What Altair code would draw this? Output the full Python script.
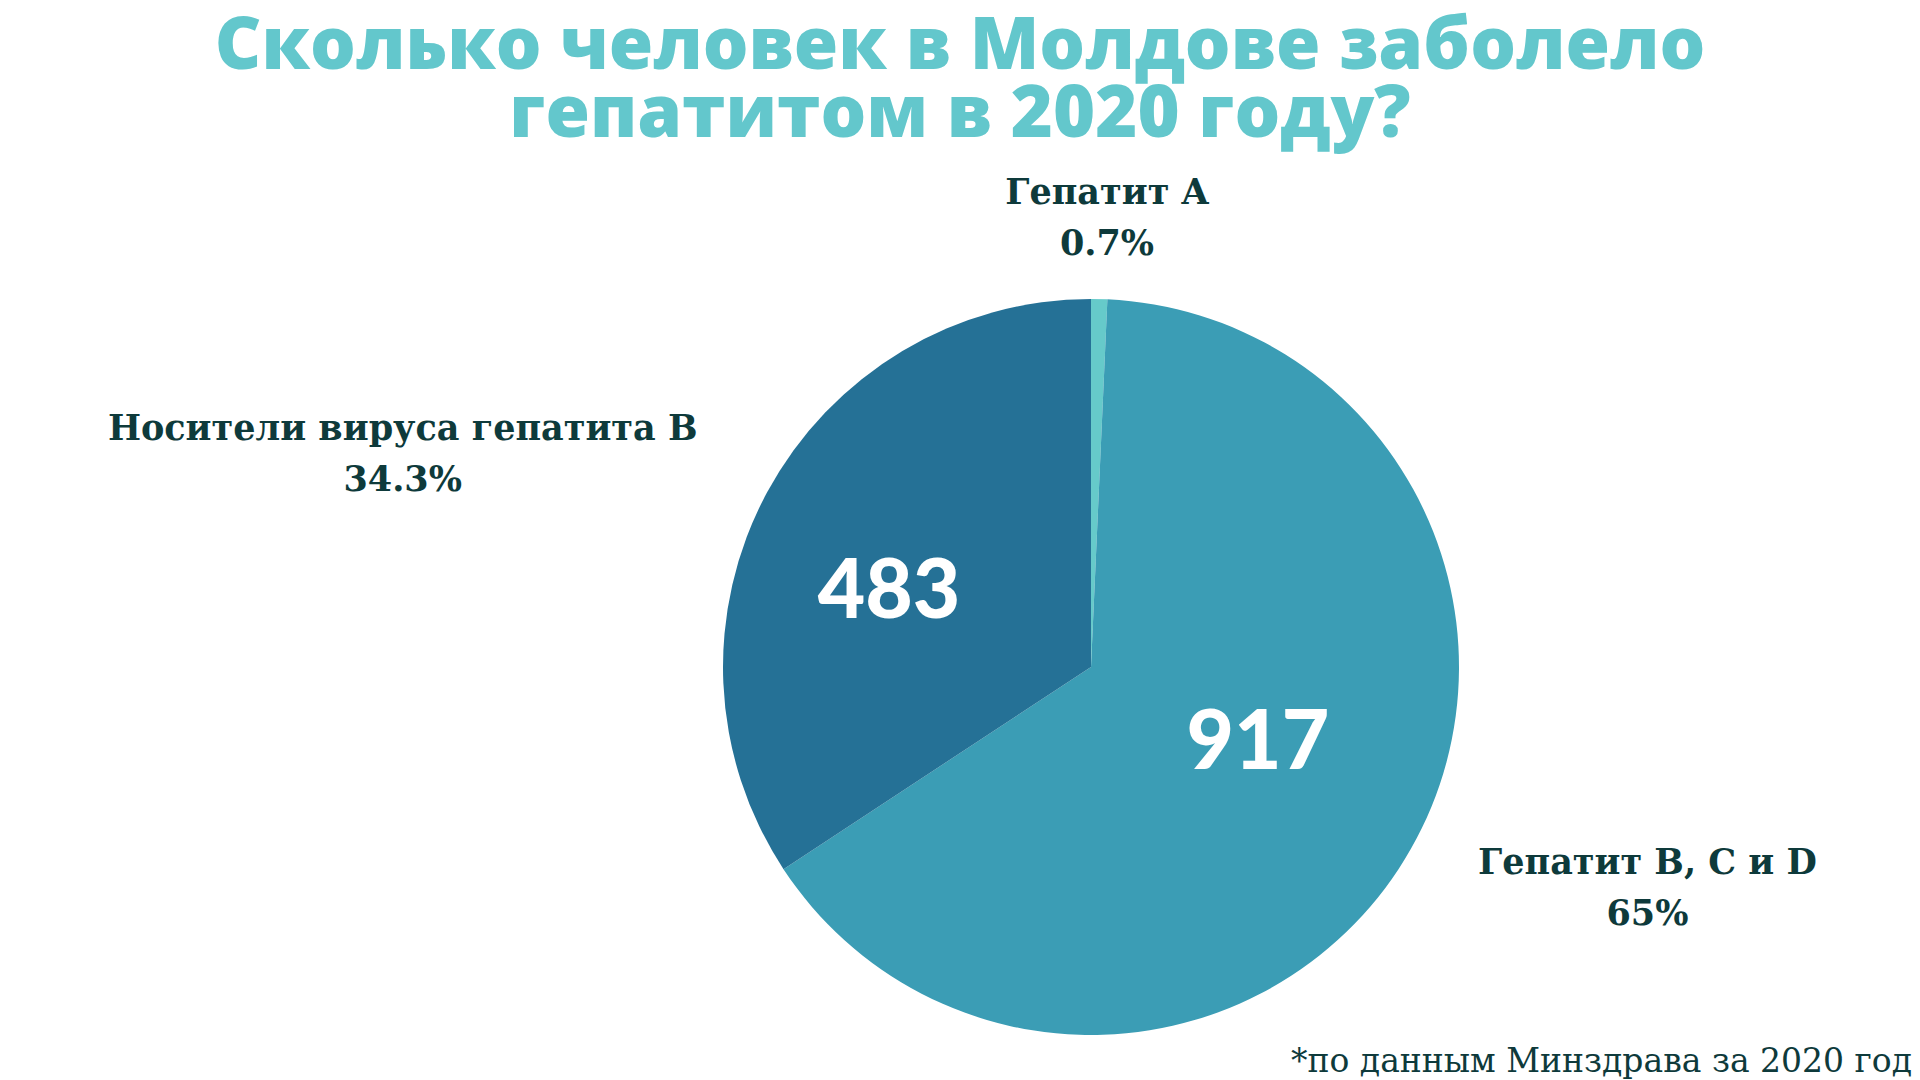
import altair as alt
import pandas as pd

# ---- data ----
categories = ["Гепатит A", "Гепатит B, C и D", "Носители вируса гепатита B"]
counts = [10, 917, 483]
pct_labels = ["0.7%", "65%", "34.3%"]
order_idx = [0, 1, 2]
colors = ["#66caca", "#3b9db5", "#257196"]

title_lines = ["Сколько человек в Молдове заболело", "гепатитом в 2020 году?"]
footnote = ["*по данным Минздрава за 2020 год"]

df = pd.DataFrame({"name": categories, "count": counts, "pct": pct_labels, "idx": order_idx})
total = sum(counts)

PAD_TOP = 170
CX, CY = 1091, 667 - PAD_TOP
R = 368
DARK = "#0e3a3b"
SERIF = "DejaVu Serif"
SANS = "Lato"
TITLE_FONT = "Open Sans"

base = alt.Chart(df)
theta_scale = alt.Scale(domain=[0, total], range=[0, 6.283185307179586])

arc = base.mark_arc(outerRadius=R, strokeWidth=0).encode(
    theta=alt.Theta("count:Q", stack=True, scale=theta_scale),
    order=alt.Order("idx:Q"),
    color=alt.Color("name:N", scale=alt.Scale(domain=categories, range=colors), legend=None),
    x=alt.value(CX),
    y=alt.value(CY),
)


def positioned(k):
    return (
        base.transform_window(cum="sum(count)", sort=[alt.SortField("idx")], frame=[None, 0])
        .transform_calculate(mid="datum.cum - datum.count / 2",
                             lines="[datum.name, datum.pct]",
                             num="format(datum.count, 'd')")
        .transform_filter(f"datum.idx == {k}")
    )


def outer_label(k, radius, dx, dy):
    return positioned(k).mark_text(
        font=SERIF, fontWeight="bold", fontSize=35, color=DARK,
        align="center", baseline="middle", lineHeight=51,
        radius=radius, dx=dx, dy=dy,
    ).encode(
        theta=alt.Theta("mid:Q", stack=False, scale=theta_scale),
        text="lines:N",
        x=alt.value(CX), y=alt.value(CY),
    )


def inner_label(k, radius, dx, dy):
    return positioned(k).mark_text(
        font=SANS, fontWeight=900, fontSize=82, color="white",
        align="center", baseline="middle",
        radius=radius, dx=dx, dy=dy,
    ).encode(
        theta=alt.Theta("mid:Q", stack=False, scale=theta_scale),
        text="num:N",
        x=alt.value(CX), y=alt.value(CY),
    )


foot = alt.Chart(pd.DataFrame({"t": footnote})).mark_text(
    font=SERIF, fontSize=33, color=DARK, align="right", baseline="alphabetic",
).encode(text="t:N", x=alt.value(1912), y=alt.value(1072 - PAD_TOP))

chart = alt.layer(
    arc,
    outer_label(0, 449, 6, -25),
    outer_label(1, 448, 167, -25),
    outer_label(2, 448, -294, -25),
    inner_label(1, 200, -7, -22),
    inner_label(2, 200, -26, 21),
    foot,
).properties(
    width=1920,
    height=1080 - PAD_TOP,
    title=alt.Title(
        title_lines, font=TITLE_FONT, fontWeight=800, fontSize=72, color="#63c7cc",
        anchor="middle", lineHeight=68, offset=18,
    ),
    autosize=alt.AutoSizeParams(type="none"),
    padding={"top": PAD_TOP, "left": 0, "right": 0, "bottom": 0},
    background="white",
).configure_view(stroke=None)

chart.save("out.html", embed_options={"renderer": "svg", "actions": False})
